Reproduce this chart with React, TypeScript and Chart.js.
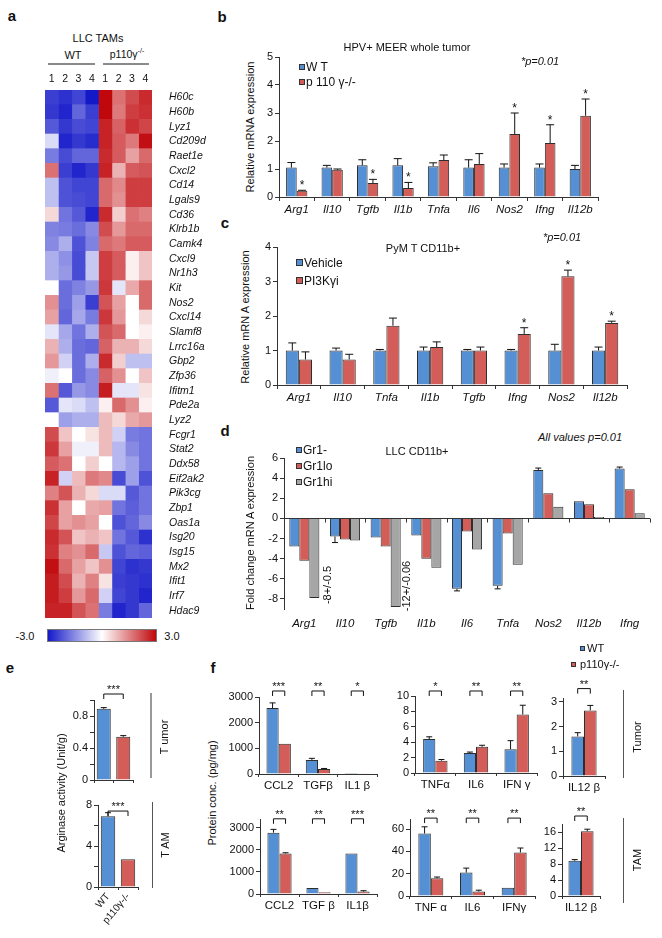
import React, { useEffect, useRef } from 'react';
import { Chart, registerables } from 'chart.js';
Chart.register(...registerables);

const FONT = "'Liberation Sans', Arial, Helvetica, sans-serif";
Chart.defaults.font.family = FONT;
Chart.defaults.color = '#111';

const BLUE = '#5690d4';
const RED = '#d35e59';
const GRAY = '#a6a6a6';
const EDGE = '#2e2e2e';

// ---------- Panel a : heatmap ----------
const GENES = ['H60c', 'H60b', 'Lyz1', 'Cd209d', 'Raet1e', 'Cxcl2', 'Cd14', 'Lgals9', 'Cd36', 'Klrb1b', 'Camk4', 'Cxcl9', 'Nr1h3', 'Kit', 'Nos2', 'Cxcl14', 'Slamf8', 'Lrrc16a', 'Gbp2', 'Zfp36', 'Ifitm1', 'Pde2a', 'Lyz2', 'Fcgr1', 'Stat2', 'Ddx58', 'Eif2ak2', 'Pik3cg', 'Zbp1', 'Oas1a', 'Isg20', 'Isg15', 'Mx2', 'Ifit1', 'Irf7', 'Hdac9'];
const HEAT_COLS = ['1', '2', '3', '4', '1', '2', '3', '4'];
const HEAT = [
  [-2.4, -2.6, -2.3, -3.0, 3.0, 1.5, 2.0, 2.5],
  [-2.5, -2.8, -1.8, -2.4, 3.0, 1.4, 2.2, 2.4],
  [-2.0, -2.5, -2.2, -2.3, 2.6, 1.7, 2.4, 2.1],
  [-0.3, -2.8, -2.5, -2.7, 2.6, 1.8, 1.4, 2.9],
  [-1.5, -2.2, -1.8, -1.8, 2.5, 1.8, 0.9, 1.6],
  [1.5, -2.4, -2.8, -2.5, 2.6, 0.7, 1.8, 1.9],
  [-0.6, -2.1, -2.3, -2.3, 1.6, 1.2, 2.2, 2.2],
  [-0.6, -2.1, -2.2, -2.3, 1.6, 1.1, 2.2, 2.2],
  [0.3, -1.6, -2.0, -2.8, 2.5, 0.4, 1.5, 1.3],
  [-1.4, -1.5, -1.7, -1.3, 2.0, 1.0, 1.6, 1.6],
  [-1.3, -0.8, -2.1, -1.4, 1.6, 1.4, 1.8, 1.8],
  [-0.8, -1.2, -2.2, -0.5, 2.2, 1.8, 0.1, 0.5],
  [-0.8, -1.1, -2.2, -0.5, 2.2, 1.8, 0.1, 0.5],
  [0.0, -1.7, -1.4, -1.1, 2.3, -0.2, 0.8, 1.6],
  [1.1, -1.7, -1.0, -2.4, 1.9, 0.9, 0.0, 1.6],
  [0.9, -1.8, -0.9, -1.5, 2.3, 1.0, 0.0, 0.3],
  [-0.2, -0.9, -1.6, -0.8, 1.9, 1.6, 0.0, 0.1],
  [0.7, -0.8, -1.7, -1.8, 1.7, 0.7, 0.7, 0.3],
  [1.0, -0.4, -1.7, -0.8, 2.5, 0.4, -0.6, -0.6],
  [-0.1, 0.0, -1.7, -1.3, 1.7, 1.1, 0.0, 0.5],
  [1.5, -2.0, -1.1, -1.3, 2.7, -0.2, -0.2, 0.2],
  [-2.0, -0.2, -0.3, -0.6, 0.1, 1.6, 1.1, 0.1],
  [0.0, -1.0, -0.8, -0.8, 0.6, 0.3, 0.8, 1.0],
  [2.0, 0.5, 0.0, 0.2, 0.6, -0.4, -1.5, -1.6],
  [2.3, 0.9, -0.1, -0.1, 0.6, -0.7, -1.3, -1.6],
  [1.8, 1.5, 0.0, 0.4, 0.0, -0.7, -1.0, -1.6],
  [2.6, -0.4, 0.6, 1.4, 1.2, -2.2, -1.0, -2.1],
  [1.3, 1.9, 0.7, 0.3, -0.3, -0.3, -2.0, -1.6],
  [2.4, 0.9, 0.0, 0.8, 0.9, -1.6, -1.9, -1.6],
  [2.1, 0.9, 1.1, 0.9, 0.0, -2.1, -1.8, -1.3],
  [2.5, 1.9, 0.5, 0.7, 0.5, -1.6, -2.0, -2.6],
  [2.4, 1.3, 1.1, 1.6, -0.5, -2.1, -1.8, -1.9],
  [2.9, 1.6, 0.9, 0.5, 1.1, -2.3, -2.6, -2.5],
  [2.7, 2.0, 0.7, 1.3, 0.2, -2.4, -2.5, -2.6],
  [2.7, 2.2, 1.0, 1.6, -0.4, -2.3, -2.5, -2.8],
  [2.6, 2.6, 1.9, 1.5, -1.5, -2.8, -2.5, -1.8],
];

// ---------- Panel b ----------
const B_CATS = ['Arg1', 'Il10', 'Tgfb', 'Il1b', 'Tnfa', 'Il6', 'Nos2', 'Ifng', 'Il12b'];
const B_WT = [1.05, 1.05, 1.13, 1.13, 1.1, 1.05, 1.05, 1.05, 1.0];
const B_WT_ERR = [0.18, 0.08, 0.2, 0.24, 0.12, 0.28, 0.13, 0.13, 0.13];
const B_KO = [0.22, 0.97, 0.5, 0.32, 1.32, 1.18, 2.25, 1.93, 2.9];
const B_KO_ERR = [0.02, 0.03, 0.13, 0.2, 0.18, 0.37, 0.75, 0.65, 0.6];
const B_STARS = ['*', '', '*', '*', '', '', '*', '*', '*'];
const B_TICKS = [0, 1, 2, 3, 4, 5];

// ---------- Panel c ----------
const C_CATS = ['Arg1', 'Il10', 'Tnfa', 'Il1b', 'Tgfb', 'Ifng', 'Nos2', 'Il12b'];
const C_VEH = [1.0, 1.0, 1.0, 1.0, 1.0, 1.0, 1.0, 1.0];
const C_VEH_ERR = [0.22, 0.07, 0.03, 0.1, 0.03, 0.03, 0.18, 0.1];
const C_PI3K = [0.74, 0.74, 1.72, 1.1, 1.0, 1.48, 3.15, 1.8];
const C_PI3K_ERR = [0.22, 0.15, 0.22, 0.15, 0.1, 0.18, 0.18, 0.05];
const C_STARS = ['', '', '', '', '', '*', '*', '*'];
const C_TICKS = [0, 1, 2, 3, 4];

// ---------- Panel d ----------
const D_CATS = ['Arg1', 'Il10', 'Tgfb', 'Il1b', 'Il6', 'Tnfa', 'Nos2', 'Il12b', 'Ifng'];
const D_NEG = [-2.8, -1.8, -1.9, -1.7, -7.0, -6.7, 4.8, 1.7, 4.95];
const D_NEG_ERR = [0, 0.6, 0, 0, 0.2, 0.3, 0.2, 0, 0.15];
const D_LO = [-4.2, -2.1, -2.8, -4.0, -1.3, -1.5, 2.5, 1.4, 2.9];
const D_HI = [-7.9, -2.2, -8.8, -4.9, -3.1, -4.6, 1.15, 0.15, 0.5];
const D_TICKS = [-8, -6, -4, -2, 0, 2, 4, 6];

// ---------- Panel e ----------
const E_CATS = ['WT', 'p110γ-/-'];
const E_TUMOR = [0.89, 0.54];
const E_TUMOR_ERR = [0.015, 0.015];
const E_TUMOR_TICKS = [0, 0.2, 0.4, 0.6, 0.8, 1.0];
const E_TUMOR_LABELED = [0, 0.4, 0.8];
const E_TAM = [6.9, 2.7];
const E_TAM_ERR = [0.35, 0];
const E_TAM_TICKS = [0, 2, 4, 6, 8];
const E_TAM_LABELED = [0, 4, 8];

// ---------- Panel f ----------
const F1_CATS_T = ['CCL2', 'TGFβ', 'IL1 β'];
const F1T_WT = [2570, 550, 40];
const F1T_WT_ERR = [200, 60, 0];
const F1T_KO = [1180, 190, 5];
const F1T_KO_ERR = [0, 25, 0];
const F1T_SIG = ['***', '**', '*'];
const F2_CATS_T = ['TNFα', 'IL6', 'IFN γ'];
const F2T_WT = [4.4, 2.6, 3.1];
const F2T_WT_ERR = [0.3, 0.12, 1.1];
const F2T_KO = [1.6, 3.4, 7.6];
const F2T_KO_ERR = [0.15, 0.2, 1.2];
const F2T_SIG = ['*', '**', '**'];
const F3_CATS_T = ['IL12 β'];
const F3T_WT = [1.6];
const F3T_WT_ERR = [0.15];
const F3T_KO = [2.65];
const F3T_KO_ERR = [0.2];
const F3T_SIG = ['**'];

const F1_CATS_B = ['CCL2', 'TGF β', 'IL1β'];
const F1B_WT = [2780, 270, 1840];
const F1B_WT_ERR = [150, 0, 0];
const F1B_KO = [1840, 80, 110];
const F1B_KO_ERR = [30, 0, 40];
const F1B_SIG = ['**', '**', '***'];
const F2_CATS_B = ['TNF α', 'IL6', 'IFNγ'];
const F2B_WT = [56, 21, 7.5];
const F2B_WT_ERR = [6, 4, 0];
const F2B_KO = [16, 4, 39];
const F2B_KO_ERR = [1, 1.2, 4];
const F2B_SIG = ['**', '**', '**'];
const F3_CATS_B = ['IL12 β'];
const F3B_WT = [8.8];
const F3B_WT_ERR = [0.3];
const F3B_KO = [16.2];
const F3B_KO_ERR = [0.5];
const F3B_SIG = ['**'];

// ---------- helpers ----------
function heatColor(v: number) {
  const t = Math.max(-3, Math.min(3, v)) / 3;
  const mid = [255, 255, 255];
  const lo = [20, 25, 200];
  const hi = [192, 8, 12];
  const end = t < 0 ? lo : hi;
  const f = Math.pow(Math.abs(t), 0.8);
  const c = mid.map((m, k) => Math.round(m + (end[k] - m) * f));
  return `rgb(${c[0]},${c[1]},${c[2]})`;
}

const fit = (size: number) => (s: any) => {
  if (s.isHorizontal()) s.height = size;
  else s.width = size;
  s.paddingTop = 0;
  s.paddingBottom = 0;
  s.paddingLeft = 0;
  s.paddingRight = 0;
};

function yLin(min: number, max: number, ticks: number[], labeled: number[], L: number, extra: any = {}) {
  return {
    type: 'linear',
    min,
    max,
    afterFit: fit(L),
    afterBuildTicks: (s: any) => {
      s.ticks = ticks.map((v) => ({ value: v }));
    },
    ticks: {
      font: { size: 11 },
      color: '#111',
      padding: 2,
      autoSkip: false,
      callback: (v: number) => (labeled.includes(v) ? String(v) : ''),
    },
    grid: { drawOnChartArea: false, drawTicks: true, tickLength: 4, color: '#333', tickColor: '#333' },
    border: { display: true, color: '#333', width: 1 },
    ...extra,
  };
}

function xCat(B: number, o: any = {}) {
  const { italic = false, size = 11, show = true, line = true, tickLen = 4, padding = 2, rot = 0 } = o;
  return {
    type: 'category',
    afterFit: fit(B),
    ticks: {
      display: show,
      font: { size, style: italic ? 'italic' : 'normal' },
      color: '#111',
      padding,
      autoSkip: false,
      maxRotation: rot,
      minRotation: rot,
    },
    grid: { display: line, drawOnChartArea: false, drawTicks: true, tickLength: tickLen, offset: true, color: '#333', tickColor: '#333' },
    border: { display: line, color: '#333', width: 1 },
  };
}

const annotPlugin = {
  id: 'annot',
  afterDatasetsDraw(chart: any, _args: any, opts: any) {
    const ctx = chart.ctx;
    const ys = chart.scales.y;
    const xs = chart.scales.x;
    ctx.save();
    ctx.strokeStyle = '#111';
    ctx.fillStyle = '#111';
    ctx.lineWidth = 1;
    if (opts.zeroTicks) {
      const y0 = Math.round(ys.getPixelForValue(0)) + 0.5;
      const n = chart.data.labels.length;
      const step = (xs.right - xs.left) / n;
      ctx.strokeStyle = '#333';
      ctx.beginPath();
      for (let i = 0; i <= n; i++) {
        const x = Math.round(xs.left + i * step) + 0.5;
        ctx.moveTo(x, y0);
        ctx.lineTo(x, y0 + 4);
      }
      ctx.stroke();
      ctx.strokeStyle = '#111';
    }
    chart.data.datasets.forEach((ds: any, di: number) => {
      const meta = chart.getDatasetMeta(di);
      meta.data.forEach((el: any, i: number) => {
        const v = ds.data[i];
        const e = ds.errors ? ds.errors[i] : 0;
        const dir = v < 0 ? -1 : 1;
        if (e) {
          const y0 = ys.getPixelForValue(v);
          const y1 = ys.getPixelForValue(v + dir * e);
          const cw = opts.cap ?? 3;
          ctx.beginPath();
          ctx.moveTo(el.x, y0);
          ctx.lineTo(el.x, y1);
          ctx.moveTo(el.x - cw, y1);
          ctx.lineTo(el.x + cw, y1);
          ctx.stroke();
        }
        const s = ds.stars ? ds.stars[i] : '';
        if (s) {
          ctx.font = `12px ${FONT}`;
          ctx.textAlign = 'center';
          ctx.textBaseline = 'alphabetic';
          ctx.fillText(s, el.x, ys.getPixelForValue(v + e) - 1);
        }
      });
    });
    if (opts.brackets) {
      const m0 = chart.getDatasetMeta(0);
      const m1 = opts.single ? m0 : chart.getDatasetMeta(1);
      const yb = ys.getPixelForValue(opts.bracketAt);
      ctx.font = `11px ${FONT}`;
      ctx.textAlign = 'center';
      ctx.textBaseline = 'alphabetic';
      opts.brackets.forEach((s: string, i: number) => {
        const x1 = opts.single ? m0.data[0].x : m0.data[i].x;
        const x2 = opts.single ? m1.data[1].x : m1.data[i].x;
        ctx.beginPath();
        ctx.moveTo(x1, yb + 5);
        ctx.lineTo(x1, yb);
        ctx.lineTo(x2, yb);
        ctx.lineTo(x2, yb + 5);
        ctx.stroke();
        ctx.fillText(s, (x1 + x2) / 2, yb - 1);
      });
    }
    ctx.restore();
  },
};

// column labels of the heatmap, placed through the x scale
const heatColsPlugin = {
  id: 'heatCols',
  afterDraw(chart: any) {
    const ctx = chart.ctx;
    const xs = chart.scales.x;
    ctx.save();
    ctx.fillStyle = '#111';
    ctx.font = `10.5px ${FONT}`;
    ctx.textAlign = 'center';
    ctx.textBaseline = 'middle';
    HEAT_COLS.forEach((c, i) => {
      ctx.fillText(c, xs.getPixelForValue(i + 0.5), chart.chartArea.top - 11);
    });
    ctx.restore();
  },
};

type Rect = { l: number; t: number; r: number; b: number };
type Mg = { L: number; T: number; R: number; B: number };

function ChartBox({ rect, mg, make }: { rect: Rect; mg: Mg; make: () => any }) {
  const ref = useRef<HTMLCanvasElement>(null);
  const w = rect.r - rect.l + mg.L + mg.R;
  const h = rect.b - rect.t + mg.T + mg.B;
  useEffect(() => {
    const c = new Chart(ref.current as HTMLCanvasElement, make());
    return () => c.destroy();
  }, []);
  return (
    <canvas
      ref={ref}
      width={w}
      height={h}
      style={{ position: 'absolute', left: rect.l - mg.L, top: rect.t - mg.T, width: w, height: h }}
    />
  );
}

const baseOpts = (mg: Mg) => ({
  responsive: false,
  animation: false,
  events: [],
  layout: { padding: { top: mg.T, right: mg.R, left: 0, bottom: 0 } },
  plugins: { legend: { display: false }, tooltip: { enabled: false } },
});

const ds = (data: number[], color: any, errors?: number[], stars?: string[], cp = 0.6) => ({
  data,
  backgroundColor: color,
  borderColor: EDGE,
  borderWidth: 1,
  barPercentage: 1,
  categoryPercentage: cp,
  errors,
  stars,
});

// ---------- chart configs ----------
const HEAT_RECT: Rect = { l: 45, t: 90, r: 152, b: 618 };
const HEAT_MG: Mg = { L: 2, T: 24, R: 64, B: 2 };
const heatConfig = () => ({
  type: 'bar',
  data: {
    labels: GENES,
    datasets: HEAT_COLS.map((_, j) => ({
      data: GENES.map(() => 1),
      backgroundColor: HEAT.map((r) => heatColor(r[j])),
      borderWidth: 0,
      barPercentage: 1,
      categoryPercentage: 1,
    })),
  },
  options: {
    indexAxis: 'y',
    responsive: false,
    animation: false,
    events: [],
    layout: { padding: { left: HEAT_MG.L, bottom: HEAT_MG.B, top: HEAT_MG.T, right: 0 } },
    plugins: { legend: { display: false }, tooltip: { enabled: false } },
    scales: {
      x: { type: 'linear', stacked: true, min: 0, max: 8, display: false },
      y: {
        type: 'category',
        stacked: true,
        position: 'right',
        afterFit: fit(HEAT_MG.R),
        ticks: { font: { size: 10.5, style: 'italic' }, color: '#111', padding: 9, autoSkip: false },
        grid: { display: false },
        border: { display: false },
      },
    },
  },
  plugins: [heatColsPlugin],
});

const B_RECT: Rect = { l: 279, t: 57, r: 598, b: 197 };
const B_MG: Mg = { L: 20, T: 8, R: 6, B: 18 };
const bConfig = () => ({
  type: 'bar',
  data: {
    labels: B_CATS,
    datasets: [ds(B_WT, BLUE, B_WT_ERR), ds(B_KO, RED, B_KO_ERR, B_STARS)],
  },
  options: {
    ...baseOpts(B_MG),
    plugins: { legend: { display: false }, tooltip: { enabled: false }, annot: { cap: 4 } },
    scales: { x: xCat(B_MG.B, { italic: true, size: 11.5 }), y: yLin(0, 5, B_TICKS, B_TICKS, B_MG.L) },
  },
  plugins: [annotPlugin],
});

const C_RECT: Rect = { l: 277, t: 247, r: 627, b: 385 };
const C_MG: Mg = { L: 20, T: 8, R: 6, B: 18 };
const cConfig = () => ({
  type: 'bar',
  data: {
    labels: C_CATS,
    datasets: [ds(C_VEH, BLUE, C_VEH_ERR), ds(C_PI3K, RED, C_PI3K_ERR, C_STARS)],
  },
  options: {
    ...baseOpts(C_MG),
    plugins: { legend: { display: false }, tooltip: { enabled: false }, annot: { cap: 4 } },
    scales: { x: xCat(C_MG.B, { italic: true, size: 11.5 }), y: yLin(0, 4, C_TICKS, C_TICKS, C_MG.L) },
  },
  plugins: [annotPlugin],
});

const D_RECT: Rect = { l: 284, t: 458, r: 650, b: 609 };
const D_MG: Mg = { L: 26, T: 8, R: 4, B: 22 };
const dConfig = () => ({
  type: 'bar',
  data: {
    labels: D_CATS,
    datasets: [
      ds(D_NEG, BLUE, D_NEG_ERR, undefined, 0.74),
      ds(D_LO, RED, undefined, undefined, 0.74),
      ds(D_HI, GRAY, undefined, undefined, 0.74),
    ],
  },
  options: {
    ...baseOpts(D_MG),
    plugins: { legend: { display: false }, tooltip: { enabled: false }, annot: { cap: 3, zeroTicks: true } },
    scales: {
      x: xCat(D_MG.B, { italic: true, size: 11.5, line: false, padding: 4 }),
      y: yLin(-9, 6, D_TICKS, D_TICKS, D_MG.L, {
        grid: {
          drawOnChartArea: true,
          drawTicks: true,
          tickLength: 4,
          tickColor: '#333',
          color: (c: any) => (c.tick && c.tick.value === 0 ? '#333' : 'rgba(0,0,0,0)'),
        },
      }),
    },
  },
  plugins: [annotPlugin],
});

const ET_RECT: Rect = { l: 94, t: 700, r: 133, b: 780 };
const ET_MG: Mg = { L: 30, T: 20, R: 6, B: 5 };
const etConfig = () => ({
  type: 'bar',
  data: { labels: E_CATS, datasets: [ds(E_TUMOR, [BLUE, RED], E_TUMOR_ERR, undefined, 0.72)] },
  options: {
    ...baseOpts(ET_MG),
    plugins: { legend: { display: false }, tooltip: { enabled: false }, annot: { cap: 3, brackets: ['***'], single: true, bracketAt: 1.075 } },
    scales: {
      x: xCat(ET_MG.B, { show: false, tickLen: 3 }),
      y: yLin(0, 1.0, E_TUMOR_TICKS, E_TUMOR_LABELED, ET_MG.L),
    },
  },
  plugins: [annotPlugin],
});

const EB_RECT: Rect = { l: 98, t: 805, r: 138, b: 887 };
const EB_MG: Mg = { L: 30, T: 14, R: 6, B: 48 };
const ebConfig = () => ({
  type: 'bar',
  data: { labels: E_CATS, datasets: [ds(E_TAM, [BLUE, RED], E_TAM_ERR, undefined, 0.72)] },
  options: {
    ...baseOpts(EB_MG),
    plugins: { legend: { display: false }, tooltip: { enabled: false }, annot: { cap: 3, brackets: ['***'], single: true, bracketAt: 7.41 } },
    scales: {
      x: xCat(EB_MG.B, { size: 10, rot: 50, tickLen: 3, padding: 1 }),
      y: yLin(0, 8, E_TAM_TICKS, E_TAM_LABELED, EB_MG.L),
    },
  },
  plugins: [annotPlugin],
});

function fConfig(mg: Mg, cats: string[], wt: number[], wtE: number[], ko: number[], koE: number[], sig: string[], max: number, ticks: number[], bracketAt: number, cp: number) {
  return () => ({
    type: 'bar',
    data: { labels: cats, datasets: [ds(wt, BLUE, wtE, undefined, cp), ds(ko, RED, koE, undefined, cp)] },
    options: {
      ...baseOpts(mg),
      plugins: { legend: { display: false }, tooltip: { enabled: false }, annot: { cap: 3, brackets: sig, bracketAt } },
      scales: { x: xCat(mg.B, { size: 11.5, tickLen: 3 }), y: yLin(0, max, ticks, ticks, mg.L) },
    },
    plugins: [annotPlugin],
  });
}

const F_MG: Mg = { L: 30, T: 24, R: 6, B: 20 };
const F_CHARTS: { rect: Rect; make: () => any }[] = [
  { rect: { l: 259, t: 697, r: 377, b: 774 }, make: fConfig(F_MG, F1_CATS_T, F1T_WT, F1T_WT_ERR, F1T_KO, F1T_KO_ERR, F1T_SIG, 3000, [0, 1000, 2000, 3000], 3234, 0.62) },
  { rect: { l: 415, t: 696, r: 537, b: 773 }, make: fConfig(F_MG, F2_CATS_T, F2T_WT, F2T_WT_ERR, F2T_KO, F2T_KO_ERR, F2T_SIG, 10, [0, 2, 4, 6, 8, 10], 10.65, 0.6) },
  { rect: { l: 563, t: 698, r: 605, b: 776 }, make: fConfig(F_MG, F3_CATS_T, F3T_WT, F3T_WT_ERR, F3T_KO, F3T_KO_ERR, F3T_SIG, 3.15, [0, 1, 2, 3], 3.53, 0.6) },
  { rect: { l: 260, t: 819, r: 377, b: 894 }, make: fConfig(F_MG, F1_CATS_B, F1B_WT, F1B_WT_ERR, F1B_KO, F1B_KO_ERR, F1B_SIG, 3400, [0, 1000, 2000, 3000], 3409, 0.62) },
  { rect: { l: 410, t: 819, r: 535, b: 896 }, make: fConfig(F_MG, F2_CATS_B, F2B_WT, F2B_WT_ERR, F2B_KO, F2B_KO_ERR, F2B_SIG, 69, [0, 20, 40, 60], 69.8, 0.6) },
  { rect: { l: 562, t: 824, r: 600, b: 896 }, make: fConfig(F_MG, F3_CATS_B, F3B_WT, F3B_WT_ERR, F3B_KO, F3B_KO_ERR, F3B_SIG, 18, [0, 4, 8, 12, 16], 20, 0.66) },
];

// ---------- text helpers ----------
function Txt({ x, y, children, size = 11, rot = 0, anchor = 'c', bold = false, italic = false, color = '#111' }: any) {
  const common: any = {
    position: 'absolute',
    fontSize: size,
    fontWeight: bold ? 'bold' : 'normal',
    fontStyle: italic ? 'italic' : 'normal',
    whiteSpace: 'nowrap',
    color,
    fontFamily: FONT,
  };
  if (rot) {
    const W = 300;
    const H = 14;
    return (
      <div
        style={{
          ...common,
          left: Math.round(x) - W / 2,
          top: Math.round(y) - H / 2,
          width: W,
          height: H,
          lineHeight: `${H}px`,
          textAlign: 'center',
          transform: `rotate(${rot}deg)`,
        }}
      >
        {children}
      </div>
    );
  }
  const tx = anchor === 'l' ? '0' : anchor === 'r' ? '-100%' : '-50%';
  return (
    <div style={{ ...common, left: x, top: y, lineHeight: 1, transform: `translate(${tx}, -50%)` }}>
      {children}
    </div>
  );
}

function Sq({ x, y, c, s = 6 }: any) {
  return (
    <div
      style={{
        position: 'absolute',
        left: x - s / 2,
        top: y - s / 2,
        width: s,
        height: s,
        background: c,
        boxSizing: 'border-box',
        border: '1px solid #333',
      }}
    />
  );
}

function Line({ x1, y1, x2, y2, c = '#888', w = 1.5 }: any) {
  const vertical = x1 === x2;
  return (
    <div
      style={{
        position: 'absolute',
        left: vertical ? x1 - w / 2 : x1,
        top: vertical ? y1 : y1 - w / 2,
        width: vertical ? w : x2 - x1,
        height: vertical ? y2 - y1 : w,
        background: c,
      }}
    />
  );
}

export default function App() {
  return (
    <div style={{ position: 'absolute', left: 0, top: 0, width: 662, height: 938, background: '#fff', overflow: 'hidden', fontFamily: FONT }}>
      <ChartBox rect={HEAT_RECT} mg={HEAT_MG} make={heatConfig} />
      <ChartBox rect={B_RECT} mg={B_MG} make={bConfig} />
      <ChartBox rect={C_RECT} mg={C_MG} make={cConfig} />
      <ChartBox rect={D_RECT} mg={D_MG} make={dConfig} />
      <ChartBox rect={ET_RECT} mg={ET_MG} make={etConfig} />
      <ChartBox rect={EB_RECT} mg={EB_MG} make={ebConfig} />
      {F_CHARTS.map((f, i) => (
        <ChartBox key={i} rect={f.rect} mg={F_MG} make={f.make} />
      ))}

      {/* panel letters */}
      <Txt x={12} y={15} size={15} bold>a</Txt>
      <Txt x={222} y={16} size={15} bold>b</Txt>
      <Txt x={225} y={222} size={15} bold>c</Txt>
      <Txt x={225} y={430} size={15} bold>d</Txt>
      <Txt x={10} y={667} size={15} bold>e</Txt>
      <Txt x={213} y={667} size={15} bold>f</Txt>

      {/* panel a headers */}
      <Txt x={98} y={38} size={11}>LLC TAMs</Txt>
      <Txt x={73} y={55} size={11}>WT</Txt>
      <Txt x={127} y={53} size={10.5}>
        p110γ<sup style={{ fontSize: 7 }}>-/-</sup>
      </Txt>
      <Line x1={48} y1={64} x2={95} y2={64} c="#8a8a8a" w={2} />
      <Line x1={103} y1={64} x2={149} y2={64} c="#8a8a8a" w={2} />
      <div
        style={{
          position: 'absolute',
          left: 47,
          top: 629,
          width: 110,
          height: 13,
          boxSizing: 'border-box',
          border: '1px solid #777',
          background: 'linear-gradient(to right, rgb(20,25,200), rgb(255,255,255), rgb(192,8,12))',
        }}
      />
      <Txt x={25} y={636} size={11}>-3.0</Txt>
      <Txt x={172} y={636} size={11}>3.0</Txt>

      {/* panel b texts */}
      <Txt x={407} y={47} size={11}>HPV+ MEER whole tumor</Txt>
      <Txt x={540} y={61} size={11} italic>*p=0.01</Txt>
      <Txt x={250} y={127} size={11} rot={-90}>Relative mRNA expression</Txt>
      <Sq x={302} y={67} c={BLUE} s={6} />
      <Txt x={306} y={67} size={12} anchor="l">W T</Txt>
      <Sq x={302} y={82} c={RED} s={6} />
      <Txt x={306} y={82} size={12} anchor="l">p 110 γ-/-</Txt>

      {/* panel c texts */}
      <Txt x={423} y={248} size={11}>PyM T  CD11b+</Txt>
      <Txt x={562} y={237} size={11} italic>*p=0.01</Txt>
      <Txt x={245} y={317} size={11} rot={-90}>Relative mRN A  expression</Txt>
      <Sq x={299} y={262} c={BLUE} s={7} />
      <Txt x={304} y={263} size={12} anchor="l">Vehicle</Txt>
      <Sq x={299} y={280} c={RED} s={7} />
      <Txt x={304} y={281} size={12} anchor="l">PI3Kγi</Txt>

      {/* panel d texts */}
      <Txt x={580} y={437} size={11} italic>All values p=0.01</Txt>
      <Txt x={417} y={451} size={11}>LLC CD11b+</Txt>
      <Txt x={250} y={533} size={11} rot={-90}>Fold change mRN A  expression</Txt>
      <Sq x={299} y={450} c={BLUE} s={6} />
      <Txt x={303} y={450} size={12} anchor="l">Gr1-</Txt>
      <Sq x={299} y={466} c={RED} s={6} />
      <Txt x={303} y={466} size={12} anchor="l">Gr1lo</Txt>
      <Sq x={299} y={482} c={GRAY} s={6} />
      <Txt x={303} y={482} size={12} anchor="l">Gr1hi</Txt>
      <Txt x={327} y={585} size={11} rot={-90}>-8+/-0.5</Txt>
      <Txt x={406} y={586} size={11} rot={-90}>-12+/-0.06</Txt>

      {/* panel e texts */}
      <Txt x={61} y={793} size={11} rot={-90}>Arginase activity (Unit/g)</Txt>
      <Line x1={151} y1={693} x2={151} y2={778} c="#999" w={1.5} />
      <Txt x={164} y={737} size={11} rot={-90}>T umor</Txt>
      <Line x1={152} y1={802} x2={152} y2={888} c="#555" w={1} />
      <Txt x={165} y={845} size={11} rot={-90}>T AM</Txt>

      {/* panel f texts */}
      <Sq x={582} y={648} c={BLUE} s={5} />
      <Txt x={587} y={648} size={11} anchor="l">WT</Txt>
      <Sq x={573} y={664} c={RED} s={5} />
      <Txt x={580} y={664} size={11} anchor="l">p110γ-/-</Txt>
      <Txt x={212} y={793} size={11} rot={-90}>Protein conc. (pg/mg)</Txt>
      <Line x1={623} y1={690} x2={623} y2={778} c="#555" w={1} />
      <Txt x={637} y={737} size={11} rot={-90}>Tumor</Txt>
      <Line x1={623} y1={818} x2={623} y2={903} c="#555" w={1} />
      <Txt x={637} y={860} size={11} rot={-90}>TAM</Txt>
    </div>
  );
}
